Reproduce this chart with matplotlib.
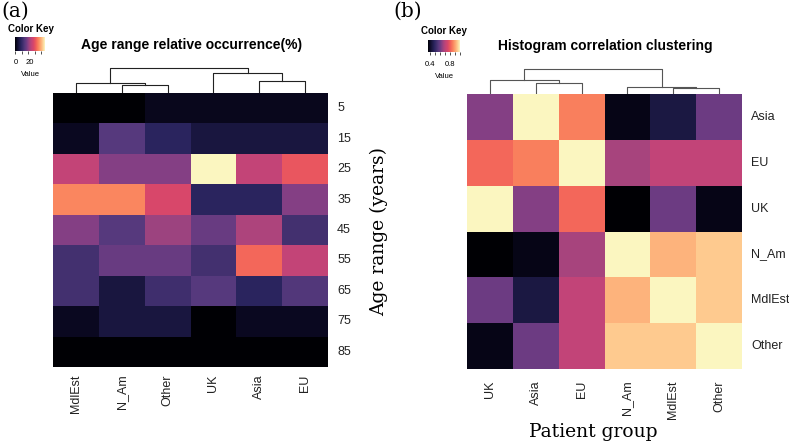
import numpy as np
import matplotlib
matplotlib.use('Agg')
import matplotlib.pyplot as plt
from matplotlib.colors import LinearSegmentedColormap

# --- данные ---
age_rows = ['5', '15', '25', '35', '45', '55', '65', '75', '85']
age_cols = ['MdlEst', 'N_Am', 'Other', 'UK', 'Asia', 'EU']
age_vals = [
    [0.0, 0.0, 2.0, 2.0, 2.0, 2.0],
    [2.5, 15.0, 9.0, 5.5, 5.5, 5.5],
    [25.5, 19.5, 19.5, 46.0, 25.5, 31.0],
    [36.0, 36.0, 28.5, 9.0, 9.0, 19.5],
    [19.5, 15.0, 21.5, 17.0, 23.0, 12.5],
    [12.5, 17.0, 17.0, 12.5, 33.0, 25.5],
    [12.5, 5.5, 12.0, 15.0, 9.0, 14.5],
    [2.5, 5.5, 5.5, 0.0, 2.5, 2.5],
    [0.0, 0.0, 0.0, 0.0, 0.0, 0.0],
]
# слияния дендрограммы: (узел, узел, высота)
age_merges = [(1, 2, 8.4), (0, 6, 10.0), (4, 5, 12.4), (3, 8, 20.0), (7, 9, 24.7)]

corr_rows = ['Asia', 'EU', 'UK', 'N_Am', 'MdlEst', 'Other']
corr_cols = ['UK', 'Asia', 'EU', 'N_Am', 'MdlEst', 'Other']
corr_vals = [
    [0.63, 1.00, 0.85, 0.38, 0.44, 0.60],
    [0.82, 0.85, 1.00, 0.67, 0.71, 0.71],
    [1.00, 0.63, 0.82, 0.36, 0.60, 0.38],
    [0.36, 0.38, 0.67, 1.00, 0.92, 0.95],
    [0.60, 0.44, 0.71, 0.92, 1.00, 0.95],
    [0.38, 0.60, 0.71, 0.95, 0.95, 1.00],
]
corr_merges = [(1, 2, 10.6), (0, 6, 14.0), (4, 5, 5.6), (3, 8, 6.6), (7, 9, 24.6)]

W, H = 789, 446
# приглушённая палитра magma, как на исходной картинке
cmap = LinearSegmentedColormap.from_list('mag', [
    (0.00, '#000004'), (0.05, '#0a0820'), (0.12, '#1a1740'), (0.20, '#2b2560'),
    (0.27, '#43306f'), (0.33, '#583a7e'), (0.38, '#6d3b82'), (0.42, '#823f84'),
    (0.48, '#a4447e'), (0.55, '#c24478'), (0.62, '#d8476a'), (0.67, '#e8545f'),
    (0.72, '#f4685a'), (0.78, '#fa845e'), (0.87, '#fdaf78'), (0.92, '#fec98e'),
    (1.00, '#fbf6c0')])
sans = 'Liberation Sans'
serif = 'DejaVu Serif'


def box(x0, y0, x1, y1):
    # пиксели -> доли фигуры
    return [x0 / W, 1 - y1 / H, (x1 - x0) / W, (y1 - y0) / H]


def fx(x, y):
    return x / W, 1 - y / H


def dendro(ax, merges, n, color):
    xs = list(np.arange(n) + 0.5)
    hs = [0.0] * n
    for a, b, h in merges:
        ax.plot([xs[a], xs[a], xs[b], xs[b]], [hs[a], h, h, hs[b]], color=color, lw=0.8)
        xs.append((xs[a] + xs[b]) / 2)
        hs.append(h)
    ax.set_xlim(0, n)
    ax.set_ylim(0, 27)
    ax.axis('off')


def heat(fig, rect, vals, rows, cols, vmin, vmax, lab_x, lab_y):
    ax = fig.add_axes(rect)
    arr = np.array(vals)
    ax.pcolormesh(arr, cmap=cmap, vmin=vmin, vmax=vmax)
    ax.set_xlim(0, arr.shape[1])
    ax.set_ylim(arr.shape[0], 0)
    ax.set_xticks([])
    ax.set_yticks([])
    for s in ax.spines.values():
        s.set_visible(False)
    for i, r in enumerate(rows):
        ax.text(lab_x, i + 0.5, r, ha='left', va='center', fontsize=9,
                family=sans, color='#222222')
    for j, c in enumerate(cols):
        ax.text(j + 0.5, lab_y, c, rotation=90, ha='center', va='top',
                fontsize=9, family=sans, color='#222222')
    return ax


def key(fig, rect, vmin, vmax, ticks, labels, tick_lab_y, lab_xs, value_xy, title_xy):
    ax = fig.add_axes(rect)
    grad = np.linspace(vmin, vmax, 256)[None, :]
    ax.imshow(grad, aspect='auto', cmap=cmap, vmin=vmin, vmax=vmax,
              extent=[vmin, vmax, 0, 1])
    ax.set_xlim(vmin, vmax)
    ax.set_yticks([])
    ax.set_xticks(ticks)
    ax.set_xticklabels([])
    ax.tick_params(axis='x', length=2, width=0.6, direction='out', color='#333333')
    for s in ax.spines.values():
        s.set_visible(False)
    for t, x in zip(labels, lab_xs):
        fig.text(*fx(x, tick_lab_y), t, ha='center', va='center', fontsize=5.5, family=sans)
    fig.text(*fx(*value_xy), 'Value', ha='center', va='center', fontsize=5.5, family=sans)
    fig.text(*fx(*title_xy), 'Color Key', ha='center', va='center', fontsize=7,
             family=sans, weight='bold')


fig = plt.figure(figsize=(W / 100, H / 100), dpi=100)

# левая тепловая карта
heat(fig, box(53, 93, 328, 367), age_vals, age_rows, age_cols, 0, 46, 6.2, 9.25)
ax_d1 = fig.add_axes(box(53, 66, 328, 93))
dendro(ax_d1, age_merges, 6, '#222222')
key(fig, box(15, 37, 45, 51), 0, 46, [0, 10, 20, 30, 40], ['0', '20'], 62,
    [16, 29.5], (30, 74), (31, 29))
fig.text(*fx(192, 45), 'Age range relative occurrence(%)', ha='center', va='center',
         fontsize=10, family=sans, weight='bold')

# правая тепловая карта
heat(fig, box(467, 94, 742, 369), corr_vals, corr_rows, corr_cols, 0.36, 1.0, 6.2, 6.25)
ax_d2 = fig.add_axes(box(467, 67, 742, 94))
dendro(ax_d2, corr_merges, 6, '#555555')
key(fig, box(428, 40, 460, 52), 0.36, 1.0, [0.4, 0.5, 0.6, 0.7, 0.8, 0.9, 1.0],
    ['0.4', '0.8'], 65, [430, 450], (444, 77), (444, 31))
fig.text(*fx(605, 46), 'Histogram correlation clustering', ha='center', va='center',
         fontsize=10, family=sans, weight='bold')

# подписи
fig.text(*fx(1, 11), '(a)', ha='left', va='center', fontsize=14.5, family=serif)
fig.text(*fx(393, 11), '(b)', ha='left', va='center', fontsize=14.5, family=serif)
fig.text(*fx(379, 231), 'Age range (years)', rotation=90, ha='center', va='center',
         fontsize=13.5, family=serif)
fig.text(*fx(593, 432), 'Patient group', ha='center', va='center', fontsize=13.5, family=serif)

fig.savefig('out.png', dpi=100)
